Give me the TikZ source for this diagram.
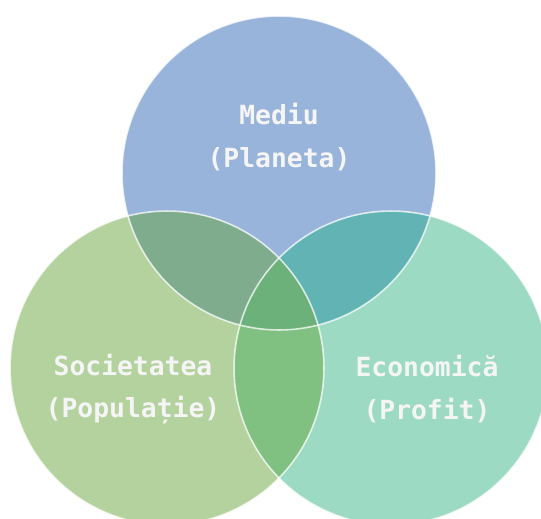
\documentclass[tikz,border=0pt]{standalone}
\usepackage{fontspec}
\setmonofont{DejaVu Sans Mono}
\usepackage{tikz}
\usetikzlibrary{positioning}

\definecolor{mediuc}{RGB}{152,180,219}
\definecolor{societc}{RGB}{180,210,158}
\definecolor{economc}{RGB}{156,218,196}
\definecolor{msc}{RGB}{126,172,140}
\definecolor{mec}{RGB}{98,180,180}
\definecolor{sec}{RGB}{128,193,130}
\definecolor{allc}{RGB}{108,176,122}

\begin{document}
\begin{tikzpicture}[x=0.02cm,y=-0.02cm]
	\tikzset{venn/.style={circle,minimum size=6.28cm,inner sep=0pt}}
	\tikzset{rim/.style={draw=white,opacity=0.75,line width=0.9pt}}
	\tikzset{label/.style={text=white!96!black,font=\ttfamily\bfseries\fontsize{15}{24}\selectfont,align=center}}
	\useasboundingbox (0,0) rectangle (541,518);
	\clip (0,0) rectangle (541,518);
	\node[venn,fill=mediuc]   (M) at (279,173) {};
	\node[venn,fill=societc]  (S) at (167,368) {};
	\node[venn,fill=economc]  (E) at (391,368) {};
	% overlaps
	\begin{scope}
		\clip (M.center) circle (3.14cm);
		\fill[msc] (S.center) circle (3.14cm);
		\fill[mec] (E.center) circle (3.14cm);
	\end{scope}
	\begin{scope}
		\clip (S.center) circle (3.14cm);
		\fill[sec] (E.center) circle (3.14cm);
		\clip (E.center) circle (3.14cm);
		\fill[allc] (M.center) circle (3.14cm);
	\end{scope}
	\draw[rim] (M.center) circle (3.14cm);
	\draw[rim] (S.center) circle (3.14cm);
	\draw[rim] (E.center) circle (3.14cm);
	% texts
	\node[label] (Mt) at (279,137) {Mediu\\(Planeta)};
	\node[label] (St) at (133,389) {Societatea\\(Populație)};
	\node[label] (Et) at (427,389) {Economică\\(Profit)};
\end{tikzpicture}
\end{document}
